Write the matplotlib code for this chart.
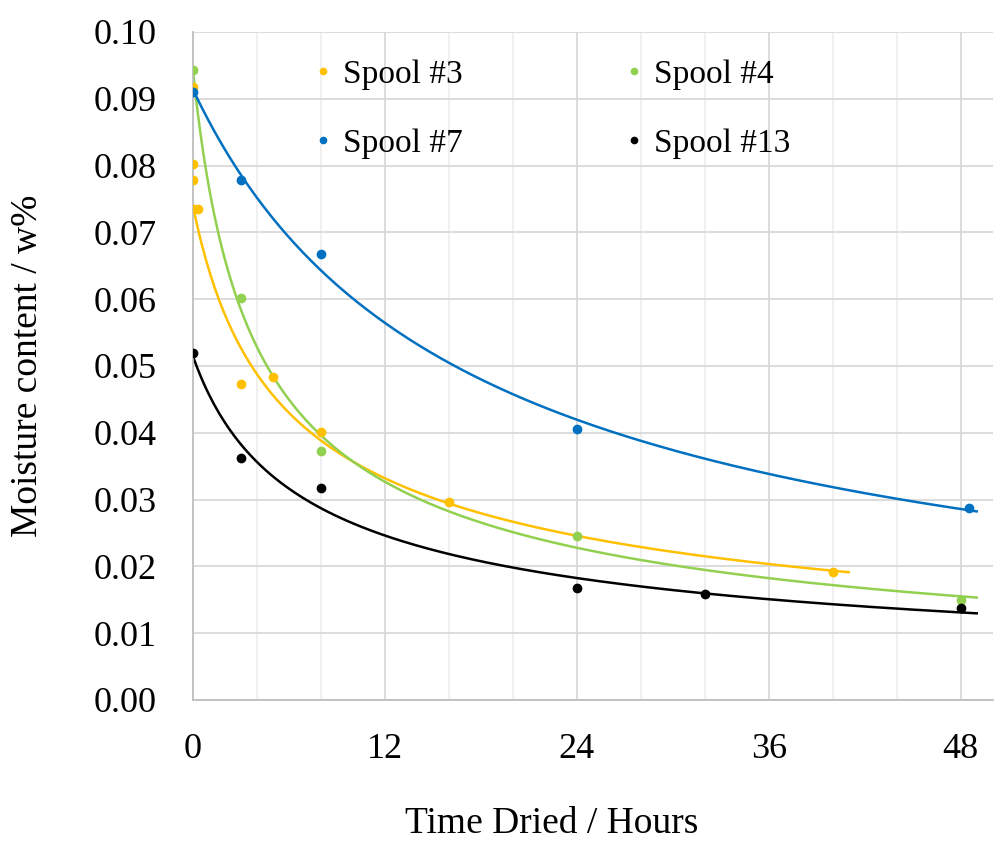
import numpy as np
import matplotlib
matplotlib.use('Agg')
import matplotlib.pyplot as plt
from matplotlib.ticker import MultipleLocator

plt.rcParams['font.family'] = ['Liberation Serif', 'DejaVu Serif']

# 데이터
spool3_x = [0, 0, 0, 0, 0.3, 3, 5, 8, 16, 40]
spool3_y = [0.0917, 0.0802, 0.0778, 0.0735, 0.0735, 0.0473, 0.0483, 0.0401, 0.0296, 0.0191]
# 추세선 계산에 쓰인 점 (위쪽 0시간 점 3개는 제외된 것으로 보임)
spool3_fit = [False, False, False, True, True, True, True, True, True, True]
spool4_x = [0, 3, 8, 24, 48]
spool4_y = [0.0943, 0.0601, 0.0372, 0.0245, 0.0150]
spool7_x = [0, 3, 8, 24, 48.5]
spool7_y = [0.0910, 0.0778, 0.0668, 0.0405, 0.0288]
spool13_x = [0, 3, 8, 24, 32, 48]
spool13_y = [0.0520, 0.0362, 0.0318, 0.0167, 0.0158, 0.0137]

labels = ['Spool #3', 'Spool #4', 'Spool #7', 'Spool #13']
colors = ['#FFC000', '#92D050', '#0070C0', '#000000']
trend_end = [41, 49, 49, 49]


# 추세선: y = a * (x + c)^b 를 로그 공간에서 최소제곱으로 맞춤
def fit_trend(x, y, x_end):
    x = np.asarray(x, float)
    ly = np.log(np.asarray(y, float))
    best = None
    for c in np.linspace(0.2, 20, 500):
        lx = np.log(x + c)
        b, la = np.polyfit(lx, ly, 1)
        err = np.sum((ly - (la + b * lx)) ** 2)
        if best is None or err < best[0]:
            best = (err, c, b, la)
    _, c, b, la = best
    xs = np.linspace(0, x_end, 300)
    return xs, np.exp(la) * (xs + c) ** b


fig = plt.figure(figsize=(9.95, 8.5), dpi=100)
ax = fig.add_axes([0.1937, 0.1765, 0.804, 0.7859])

series = [(spool3_x, spool3_y), (spool4_x, spool4_y), (spool7_x, spool7_y), (spool13_x, spool13_y)]
masks = [spool3_fit, None, None, None]
handles = []
for (sx, sy), m, lab, col, xe in zip(series, masks, labels, colors, trend_end):
    h, = ax.plot(sx, sy, 'o', color=col, markersize=6, label=lab, zorder=3)
    fx, fy = np.asarray(sx), np.asarray(sy)
    if m is not None:
        fx, fy = fx[np.asarray(m)], fy[np.asarray(m)]
    tx, ty = fit_trend(fx, fy, xe)
    ax.plot(tx, ty, '-', color=col, linewidth=1.8, zorder=2)
    handles.append(h)

ax.set_xlim(0, 50)
ax.set_ylim(0, 0.10)
ax.xaxis.set_major_locator(MultipleLocator(12))
ax.xaxis.set_minor_locator(MultipleLocator(4))
ax.yaxis.set_major_locator(MultipleLocator(0.01))
ax.yaxis.set_major_formatter(matplotlib.ticker.FormatStrFormatter('%.2f'))

ax.grid(True, which='major', color='#d9d9d9', linewidth=1.3)
ax.grid(True, which='minor', axis='x', color='#efefef', linewidth=1.3)
ax.set_axisbelow(True)

for s in ['top', 'right']:
    ax.spines[s].set_visible(False)
for s in ['left', 'bottom']:
    ax.spines[s].set_color('#bfbfbf')
    ax.spines[s].set_linewidth(1.3)

ax.tick_params(which='both', length=0)
ax.tick_params(axis='y', pad=26, labelsize=26)
ax.tick_params(axis='x', pad=24, labelsize=26)

ax.set_xlabel('Time Dried / Hours', fontsize=27)
ax.set_ylabel('Moisture content / w%', fontsize=27)
ax.xaxis.set_label_coords(0.449, -0.16)
ax.yaxis.set_label_coords(-0.185, 0.5)

# 범례 (2열: 3, 4 / 7, 13)
order = [0, 2, 1, 3]
ax.legend([handles[i] for i in order], [labels[i] for i in order],
          ncol=2, frameon=False, loc='upper left', bbox_to_anchor=(0.153, 0.9595),
          fontsize=24, handlelength=0.5, handletextpad=0.35, columnspacing=4.88,
          labelspacing=1.17, borderpad=0, borderaxespad=0, markerscale=0.75)

plt.savefig('out.png', dpi=100)
